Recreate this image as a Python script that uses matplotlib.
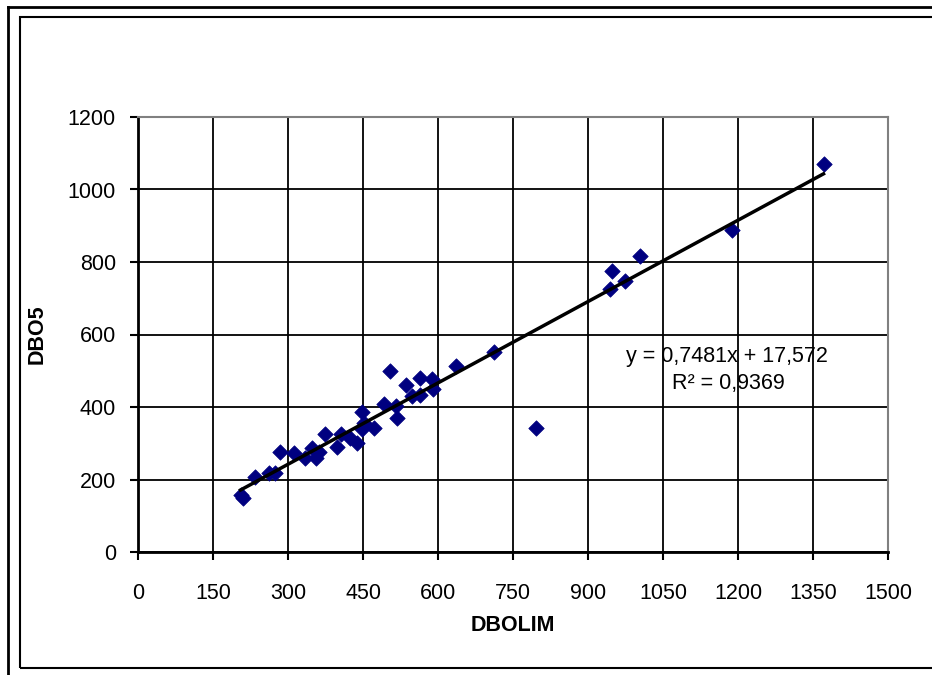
import matplotlib.pyplot as plt
from matplotlib.lines import Line2D
from matplotlib.patches import Rectangle

plt.rcParams['font.family'] = ['Liberation Sans', 'DejaVu Sans']

# DBOLIM / DBO5 values
dbolim = [205, 210, 234, 262, 274, 283, 312, 334, 348, 355, 361, 374, 397, 406,
          424, 437, 447, 451, 447, 471, 491, 503, 516, 517, 536, 547, 563, 564,
          587, 590, 636, 711, 795, 943, 947, 974, 1004, 1187, 1371]
dbo5 = [158, 150, 206, 217, 217, 277, 274, 258, 286, 258, 277, 326, 289, 326,
        314, 300, 387, 357, 340, 341, 409, 500, 403, 369, 461, 429, 479, 433,
        477, 449, 513, 553, 341, 725, 776, 748, 817, 888, 1070]

slope = 0.7481
intercept = 17.572
eq_text = "y = 0,7481x + 17,572"
r2_text = "R² = 0,9369"

fig = plt.figure(figsize=(9.32, 6.75), dpi=100)
W, H = 932, 675

# outer frames (pixel coords -> figure coords)
fig.add_artist(Rectangle((20 / W, 1 - 668 / H), 1.0, (668 - 17) / H,
                         transform=fig.transFigure, fill=False, lw=1.5, ec='black'))
fig.add_artist(Line2D([8 / W, 8 / W], [0, 1 - 7 / H], transform=fig.transFigure,
                      color='black', lw=2))
fig.add_artist(Line2D([8 / W, 1], [1 - 7 / H, 1 - 7 / H], transform=fig.transFigure,
                      color='black', lw=2))

ax = fig.add_axes([138 / W, 1 - 552 / H, (888 - 138) / W, (552 - 117) / H])

ax.scatter(dbolim, dbo5, marker='D', s=62, color='#000080', edgecolors='#000080',
           linewidths=0.5, zorder=3)
x0, x1 = min(dbolim), max(dbolim)
ax.plot([x0, x1], [slope * x0 + intercept, slope * x1 + intercept],
        color='black', lw=2.5, zorder=4)

ax.set_xlim(0, 1500)
ax.set_ylim(0, 1200)
ax.set_xticks(range(0, 1501, 150))
ax.set_yticks(range(0, 1201, 200))
ax.grid(True, color='black', lw=1.3)
ax.set_axisbelow(True)
ax.tick_params(direction='out', length=6, width=1.5, labelsize=15.5)
ax.tick_params(axis='x', pad=16)
ax.tick_params(axis='y', pad=10)

for s in ['left', 'bottom']:
    ax.spines[s].set_linewidth(2)
    ax.spines[s].set_color('black')
for s in ['top', 'right']:
    ax.spines[s].set_linewidth(1.5)
    ax.spines[s].set_color('#808080')

ax.set_xlabel('DBOLIM', fontsize=15.5, fontweight='bold', labelpad=8)
ax.set_ylabel('DBO5', fontsize=15.5, fontweight='bold', labelpad=14)

ax.text(1178, 538, eq_text, ha='center', va='center', fontsize=15.5, zorder=5)
ax.text(1180, 466, r2_text, ha='center', va='center', fontsize=15.5, zorder=5)

fig.savefig('out.png', dpi=100)
